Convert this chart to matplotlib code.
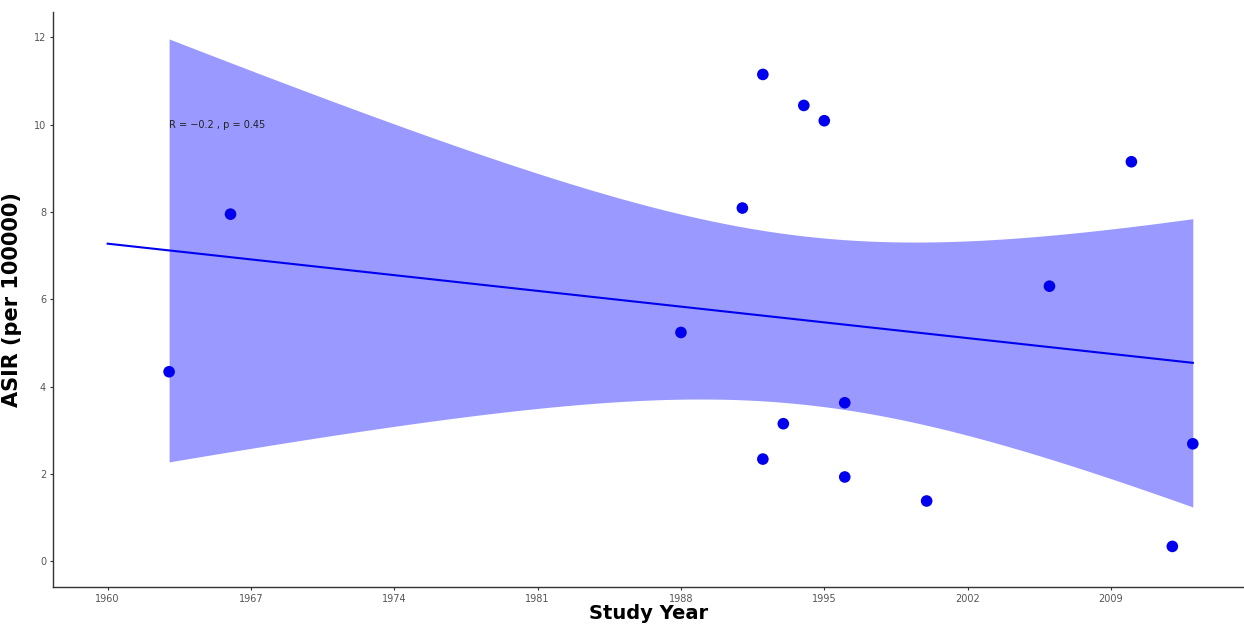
import numpy as np
import matplotlib
matplotlib.use("Agg")
import matplotlib.pyplot as plt

years = [1963, 1966, 1988, 1991, 1992, 1992, 1993, 1994, 1995, 1996, 1996, 2000, 2006, 2010, 2012, 2013]
asir = [4.34, 7.95, 5.24, 8.09, 11.15, 2.34, 3.15, 10.44, 10.09, 3.63, 1.93, 1.38, 6.30, 9.15, 0.34, 2.69]
xticks = [1960, 1967, 1974, 1981, 1988, 1995, 2002, 2009]
yticks = [0, 2, 4, 6, 8, 10, 12]
annot = "R = \u22120.2 , p = 0.45"

x = np.array(years, float)
y = np.array(asir, float)
n = len(x)
b, a = np.polyfit(x, y, 1)
resid = y - (a + b * x)
s = np.sqrt(np.sum(resid**2) / (n - 2))
xm = x.mean()
sxx = np.sum((x - xm) ** 2)
tcrit = 2.1448  # t(0.975, 14)
xs = np.linspace(x.min(), x.max(), 200)
fit = a + b * xs
se = s * np.sqrt(1.0 / n + (xs - xm) ** 2 / sxx)

fig = plt.figure(figsize=(12.44, 6.26), dpi=100)
ax = fig.add_axes([53 / 1244, 1 - 587 / 626, 1 - 53 / 1244, (587 - 12) / 626])

ax.fill_between(xs, fit - tcrit * se, fit + tcrit * se, color="#9999ff", lw=0, zorder=1)
xl = np.array([1960, x.max()])
ax.plot(xl, a + b * xl, color="#0000ee", lw=1.5, zorder=2)
ax.scatter(x, y, s=70, color="#0000ee", zorder=3, edgecolors="none")
ax.text(1963, 10, annot, fontsize=7, color="#222222", ha="left", va="center", zorder=4)

ax.set_xlim(1957.33, 2015.5)
ax.set_ylim(-0.59, 12.58)
ax.set_xticks(xticks)
ax.set_yticks(yticks)
ax.tick_params(labelsize=7, labelcolor="#555555", color="#333333", length=2.5, width=0.8, pad=2.5)
for sp in ["top", "right"]:
    ax.spines[sp].set_visible(False)
for sp in ["left", "bottom"]:
    ax.spines[sp].set_color("#333333")
    ax.spines[sp].set_linewidth(1.0)

ax.set_xlabel("Study Year", fontsize=14, fontweight="bold")
ax.set_ylabel("ASIR (per 100000)", fontsize=15, fontweight="bold")
ax.xaxis.set_label_coords(0.5, -0.029)
ax.yaxis.set_label_coords(-0.026, 0.5)

fig.savefig("out.png", dpi=100)
